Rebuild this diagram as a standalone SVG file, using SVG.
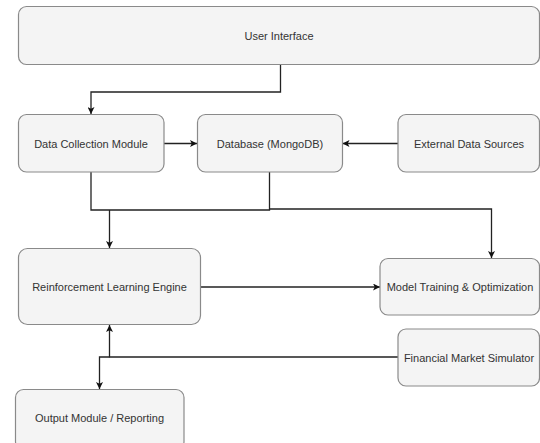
<svg xmlns="http://www.w3.org/2000/svg" width="540" height="443" viewBox="0 0 540 443">
  <style>
    .box { fill: #f4f4f4; stroke: #8a8a8a; stroke-width: 1.2; }
    .label { font-family: "Liberation Sans", Arial, sans-serif; font-size: 11px; fill: #333333; text-anchor: middle; dominant-baseline: central; }
    .edge { fill: none; stroke: #222222; stroke-width: 1.3; }
  </style>
  <defs>
    <marker id="arrow" viewBox="0 0 10 10" refX="10" refY="5" markerWidth="7" markerHeight="7" orient="auto" markerUnits="userSpaceOnUse">
      <path d="M0,0 L10,5 L0,10 L2.5,5 Z" fill="#111111"/>
    </marker>
  </defs>
  <rect width="540" height="443" fill="#ffffff"/>

  <g id="connectors">
    <!-- User Interface to Data Collection Module -->
    <path class="edge" d="M280.5,64 V92 H91 V114" marker-end="url(#arrow)"/>
    <!-- Data Collection Module to Database -->
    <path class="edge" d="M164,143.5 H197" marker-end="url(#arrow)"/>
    <!-- External Data Sources to Database -->
    <path class="edge" d="M398,143.5 H342.5" marker-end="url(#arrow)"/>
    <!-- Collection and storage merge -->
    <path class="edge" d="M91,172 V210 H269.5 V172"/>
    <path class="edge" d="M109.5,210 V248" marker-end="url(#arrow)"/>
    <path class="edge" d="M269.5,209 H491.5 V258" marker-end="url(#arrow)"/>
    <!-- Reinforcement Learning Engine to Model Training -->
    <path class="edge" d="M200.5,287 H380" marker-end="url(#arrow)"/>
    <!-- Simulator feeds the engine and reporting -->
    <path class="edge" d="M398,357 H109.5 V325" marker-end="url(#arrow)"/>
    <path class="edge" d="M109.5,357 H99.5 V389" marker-end="url(#arrow)"/>
  </g>

  <g id="user-interface">
    <rect class="box" x="18.5" y="6.5" width="521" height="58" rx="8"/>
    <text class="label" x="279" y="35.5">User Interface</text>
  </g>
  <g id="data-collection">
    <rect class="box" x="18.5" y="114.5" width="145.5" height="57.5" rx="8"/>
    <text class="label" x="91" y="143.5">Data Collection Module</text>
  </g>
  <g id="database">
    <rect class="box" x="197.5" y="114.5" width="145" height="57.5" rx="8"/>
    <text class="label" x="270" y="143.5">Database (MongoDB)</text>
  </g>
  <g id="external-data">
    <rect class="box" x="398" y="114.5" width="141.5" height="57.5" rx="8"/>
    <text class="label" x="469" y="143.5">External Data Sources</text>
  </g>
  <g id="rl-engine">
    <rect class="box" x="18.5" y="248.5" width="182" height="76" rx="9"/>
    <text class="label" x="109.5" y="287">Reinforcement Learning Engine</text>
  </g>
  <g id="model-training">
    <rect class="box" x="380" y="258.5" width="159.5" height="56.5" rx="8"/>
    <text class="label" x="460" y="287">Model Training &amp; Optimization</text>
  </g>
  <g id="market-simulator">
    <rect class="box" x="398" y="329" width="141.5" height="57" rx="8"/>
    <text class="label" x="469" y="357.5">Financial Market Simulator</text>
  </g>
  <g id="output-module">
    <rect class="box" x="15.5" y="389.5" width="168.5" height="60" rx="8"/>
    <text class="label" x="99.5" y="418">Output Module / Reporting</text>
  </g>
</svg>
